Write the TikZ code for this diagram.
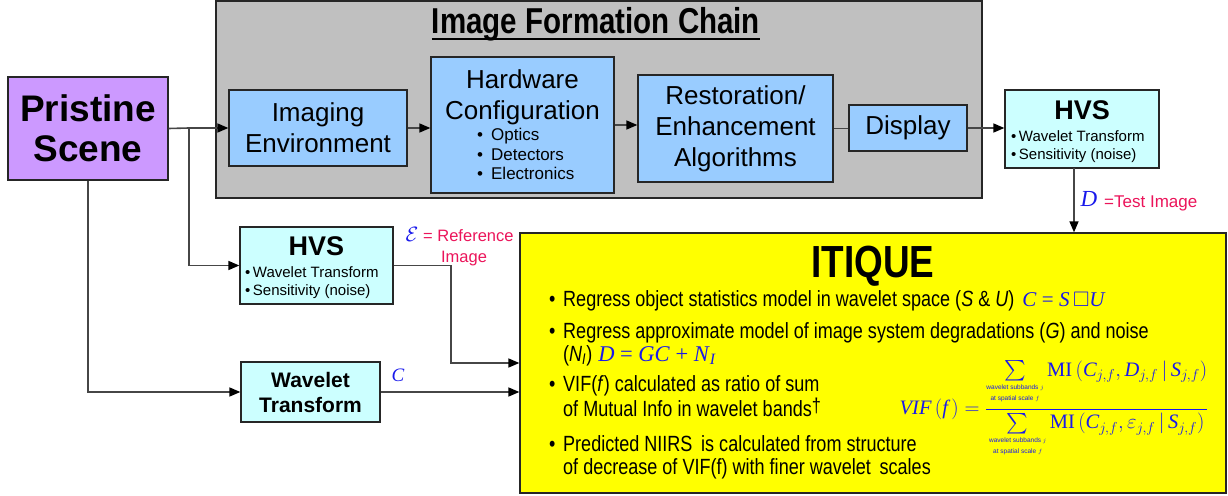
\documentclass[tikz,border=0pt]{standalone}
\usepackage{amsmath,amssymb}
\usepackage{fontspec}
\setmainfont{Liberation Sans}
\newfontfamily\nar[FakeStretch=0.82]{Liberation Sans}
\newfontfamily\tms{Liberation Serif}
\usetikzlibrary{arrows.meta,calc}
\definecolor{grayfill}{RGB}{192,192,192}
\definecolor{bluefill}{RGB}{153,204,255}
\definecolor{purp}{RGB}{204,153,255}
\definecolor{cyanfill}{RGB}{204,255,255}
\definecolor{yel}{RGB}{255,255,0}
\definecolor{lbl}{RGB}{235,20,90}
\definecolor{mblue}{RGB}{25,25,235}
\definecolor{wirec}{RGB}{70,70,70}
\newcommand{\mi}[1]{\text{\tms\itshape #1}}
\newcommand{\fsz}[2]{\fontsize{#1}{#2}\selectfont}
\newcommand{\sumlbl}{\substack{\text{\fsz{6.5}{7}wavelet subbands $j$}\\ \text{\fsz{6.5}{7}at spatial scale $f$\rule[-4pt]{0pt}{4pt}}}}
\tikzset{
  box/.style={draw=black!85, line width=1.3pt, inner sep=0pt},
  blu/.style={box, fill=bluefill},
  cya/.style={box, fill=cyanfill},
  wire/.style={draw=wirec, line width=1.6pt},
  arr/.style={wire, -{Triangle[length=11pt,width=9pt,color=black]}},
  boxtxt/.style={font=\fsz{26}{31}, align=center},
  bul/.style={font=\nar\fsz{22}{26}, anchor=base west, inner sep=0pt},
  hvsbul/.style={font=\fsz{15}{17.5}, anchor=base west, inner sep=0pt},
  hvstitle/.style={font=\bfseries\fsz{27}{30}, anchor=base, inner sep=0pt},
  lab/.style={text=lbl, font=\fsz{16.5}{20}, inner sep=0pt},
}
\begin{document}
\begin{tikzpicture}[x=1pt,y=-1pt]
\useasboundingbox (0,0) rectangle (1228,495);

% Image formation chain
\node[box, fill=grayfill, minimum width=766, minimum height=197] (ifc) at (599,99.5) {};
\node[font=\nar\bfseries\fsz{36}{40}, anchor=base, inner sep=0pt] (ifct) at (596,34) {Image Formation Chain};
\draw[line width=1.8pt] ($(ifct.base west)+(0,5)$) -- ($(ifct.base east)+(0,5)$);

\node[box, fill=purp, minimum width=160, minimum height=103, font=\bfseries\fsz{37}{40}, align=center] (ps) at (88,128.5) {Pristine\\Scene};

\node[blu, minimum width=178, minimum height=76, boxtxt] (ie) at (318,128) {Imaging\\Environment};
\node[blu, minimum width=183, minimum height=136] (hw) at (522.5,125) {};
\node[boxtxt, anchor=north, inner sep=0pt] (hwt) at (522.5,69) {Hardware\\Configuration};
\node[font=\fsz{17}{19.5}, anchor=north west, align=left, inner sep=0pt] (hwb) at (477,128) {•\hspace{8pt}Optics\\•\hspace{8pt}Detectors\\•\hspace{8pt}Electronics};
\node[blu, minimum width=195, minimum height=107, boxtxt] (rest) at (735.5,128.5) {Restoration/\\Enhancement\\Algorithms};
\node[blu, minimum width=118, minimum height=46, boxtxt] (disp) at (908,128) {\raisebox{-2pt}{Display}};

% HVS boxes
\node[cya, minimum width=154, minimum height=78] (hvsa) at (1082,129) {};
\node[hvstitle] (hvsat) at (1082,119) {HVS};
\node[hvsbul] (hvsab1) at (1011,141) {•\,Wavelet Transform};
\node[hvsbul] (hvsab2) at (1011,159) {•\,Sensitivity (noise)};

\node[cya, minimum width=153, minimum height=77] (hvsb) at (316.5,265.5) {};
\node[hvstitle] (hvsbt) at (316.5,255) {HVS};
\node[hvsbul] (hvsbb1) at (245,277) {•\,Wavelet Transform};
\node[hvsbul] (hvsbb2) at (245,295) {•\,Sensitivity (noise)};

\node[cya, minimum width=139, minimum height=60, font=\bfseries\fsz{21}{25}, align=center] (wt) at (310.5,392) {Wavelet\\Transform};

% ITIQUE
\node[box, fill=yel, minimum width=706, minimum height=260] (itq) at (873,363) {};
\node[font=\nar\bfseries\fsz{45}{50}, anchor=base, inner sep=0pt] (itqt) at (873,277) {ITIQUE};

\node[bul] (b1d) at (549,306) {•};
\node[bul] (b1) at (563,306) {Regress object statistics model in wavelet space (\textit{S} \& \textit{U})\hspace{8pt}{\color{mblue}\tms\fsz{21}{26}\textit{C} = \textit{S}\,$\square$\textit{U}}};
\node[bul] (b2d) at (549,338) {•};
\node[bul] (b2) at (563,338) {Regress approximate model of image system degradations (\textit{G}) and noise};
\node[bul] (b2b) at (563,361) {(\textit{N\textsubscript{I}})\hspace{6pt}{\color{mblue}\tms\fsz{22.5}{26}\textit{D} = \textit{GC} + \textit{N}\textsubscript{\textit{I}}}};
\node[bul] (b3d) at (549,391) {•};
\node[bul] (b3) at (563,391) {VIF(\textit{f}) calculated as ratio of sum};
\node[bul] (b3b) at (563,416) {of Mutual Info in wavelet bands\raisebox{4pt}{\fsz{20}{22}†}};
\node[bul] (b4d) at (549,451) {•};
\node[bul] (b4) at (563,451) {Predicted NIIRS\, is calculated from structure};
\node[bul] (b4b) at (563,474) {of decrease of VIF(f) with finer wavelet\, scales};

\node[text=mblue, font=\fsz{20.5}{24}, inner sep=0pt] (vif) at (1054,410) {$\mi{VIF}\left(\mi{f}\,\right) = \dfrac{\sum\limits_{\sumlbl} \text{\tms MI}\left(\mi{C}_{j,f}, \mi{D}_{j,f}\,\middle|\,\mi{S}_{j,f}\right)}{\sum\limits_{\sumlbl} \text{\tms MI}\left(\mi{C}_{j,f}, \varepsilon_{j,f}\,\middle|\,\mi{S}_{j,f}\right)}$};

% connectors
\coordinate (j1) at (189,128);
\draw[wire] (ps.east) -- (j1);
\draw[arr] (j1) -- (ie.west);
\draw[arr] (j1) |- (hvsb.west);
\draw[arr] (ps.south) |- (wt.west);
\draw[arr] (ie.east) -- (ie.east -| hw.west);
\draw[arr] (hw.east) -- (hw.east -| rest.west);
\draw[wire] (rest.east) -- (rest.east -| disp.west);
\draw[arr] (disp.east) -- (disp.east -| hvsa.west);
\coordinate (dtop) at (1074,168);
\draw[arr] (dtop) -- (dtop |- itq.north);
\coordinate (c1) at (451,363);
\draw[arr] (hvsb.east) -| (c1) -- (c1 -| itq.west);
\draw[arr] (wt.east) -- (wt.east -| itq.west);

% labels
\node[text=mblue, font=\fsz{20}{22}, inner sep=0pt] (eps) at (412,234) {$\mathcal{E}$};
\node[lab, anchor=base west] (reft) at (423,241) {= Reference};
\node[lab, anchor=base] (refi) at (464,262) {Image};
\node[text=mblue, font=\tms\itshape\fsz{19}{22}, inner sep=0pt] (clab) at (398,375) {C};
\node[text=mblue, font=\tms\itshape\fsz{23}{25}, inner sep=0pt] (dlab) at (1089,199) {D};
\node[lab, anchor=base west, font=\fsz{17}{20}] (testi) at (1104,207) {=Test Image};
\end{tikzpicture}
\end{document}
